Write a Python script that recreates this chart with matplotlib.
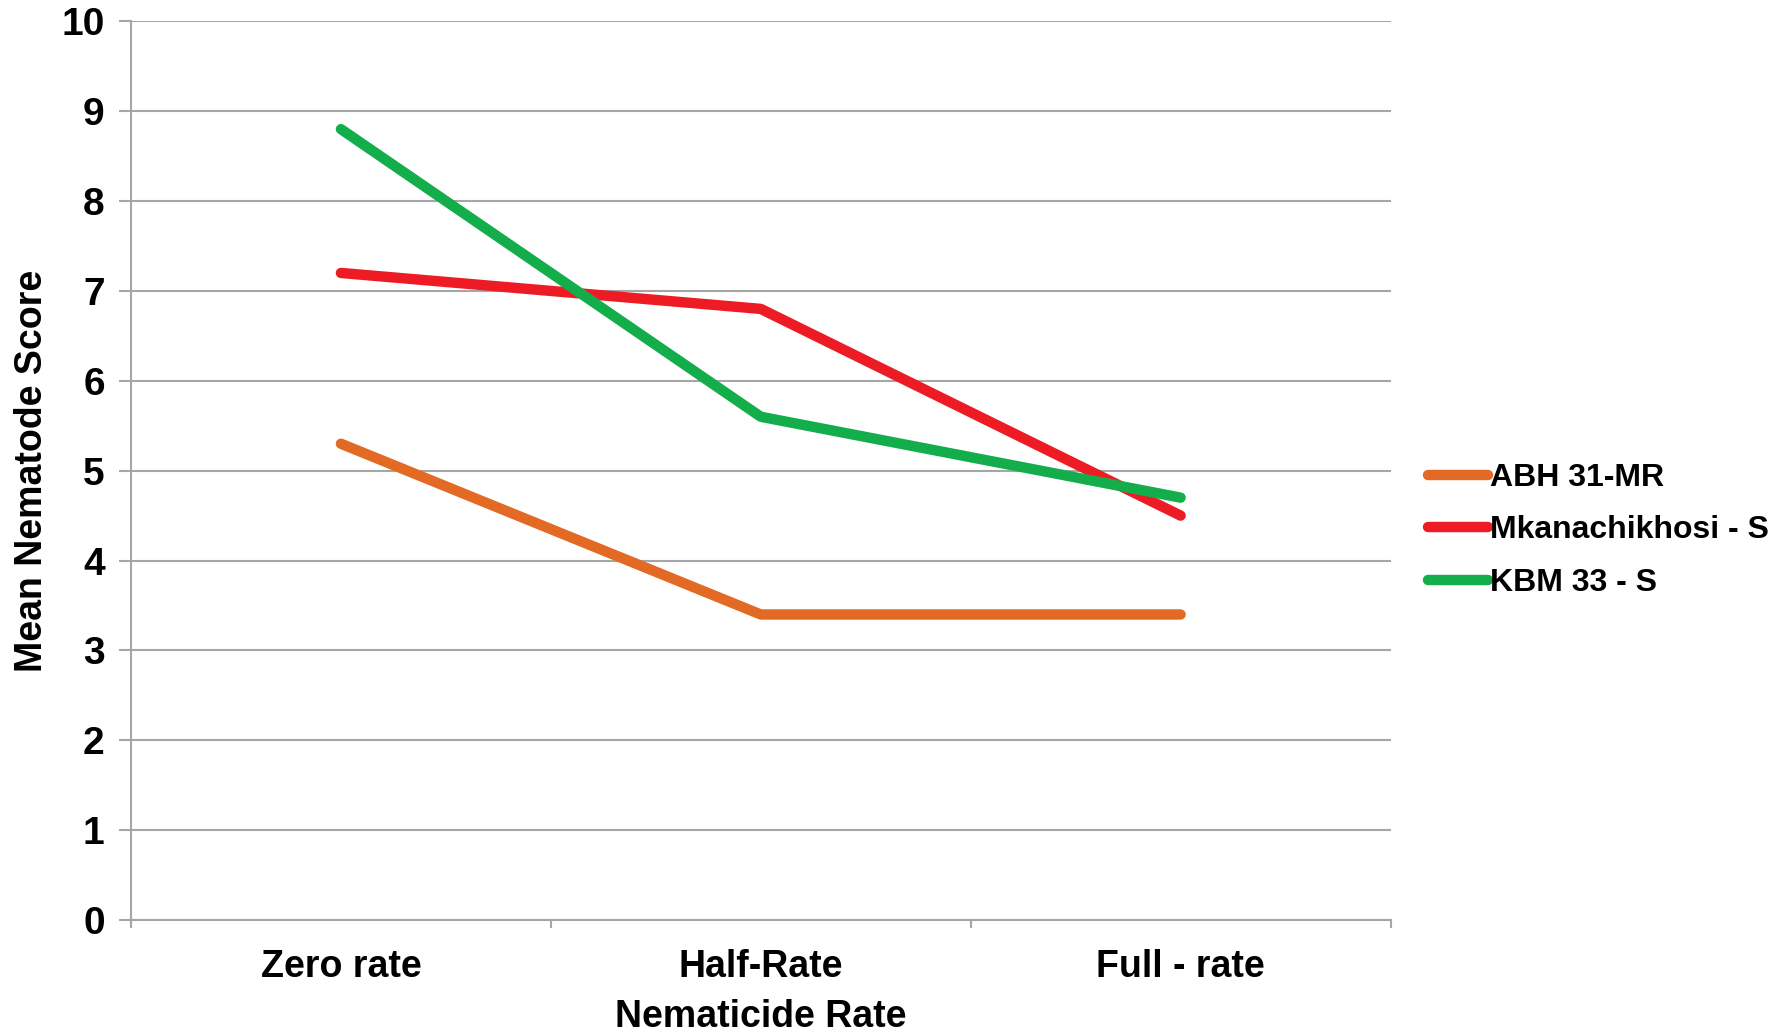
import matplotlib.pyplot as plt
import numpy as np

plt.rcParams['font.family'] = ['Liberation Sans', 'DejaVu Sans']
plt.rcParams['font.weight'] = 'bold'

# Mean nematode score per nematicide rate, one list per variety
rates = ['Zero rate', 'Half-Rate', 'Full - rate']
abh = [5.3, 3.4, 3.4]
mkanachikhosi = [7.2, 6.8, 4.5]
kbm = [8.8, 5.6, 4.7]

series = [
    ('ABH 31-MR', abh, '#E36A25'),
    ('Mkanachikhosi - S', mkanachikhosi, '#ED1C24'),
    ('KBM 33 - S', kbm, '#14AD4B'),
]

fig = plt.figure(figsize=(17.85, 10.34), dpi=100)
ax = fig.add_axes([0.0734, 0.1102, 0.7056, 0.8692])

x = np.arange(len(rates))
for name, vals, col in series:
    ax.plot(x, vals, color=col, lw=7.5, solid_capstyle='round',
            solid_joinstyle='round', label=name)

grid_col = '#A6A6A6'
ax.set_ylim(0, 10)
ax.set_yticks(range(0, 11))
ax.set_xlim(-0.5, len(rates) - 0.5)
ax.set_xticks(x)
ax.set_xticklabels(rates)
ax.set_xticks(np.arange(-0.5, len(rates), 1.0), minor=True)

ax.yaxis.grid(True, color=grid_col, lw=1.5)
ax.set_axisbelow(True)
for s in ['top', 'right']:
    ax.spines[s].set_visible(False)
for s in ['left', 'bottom']:
    ax.spines[s].set_color(grid_col)
    ax.spines[s].set_linewidth(1.5)

ax.tick_params(axis='y', length=9, width=1.5, color=grid_col, pad=10, labelsize=28)
ax.tick_params(axis='x', which='major', length=0, pad=21, labelsize=27)
ax.tick_params(axis='x', which='minor', length=6, width=1.5, color=grid_col)

ax.set_xlabel('Nematicide Rate', fontsize=27, fontweight='bold', labelpad=10)
ax.set_ylabel('Mean Nematode Score', fontsize=27, fontweight='bold', labelpad=8)

leg = fig.legend(loc='center left', bbox_to_anchor=(0.7927, 0.487), frameon=False,
                 borderaxespad=0, fontsize=23, handlelength=1.9, handletextpad=0.05,
                 labelspacing=0.7)
for line in leg.get_lines():
    line.set_linewidth(7.5)

fig.savefig('out.png', dpi=100)
